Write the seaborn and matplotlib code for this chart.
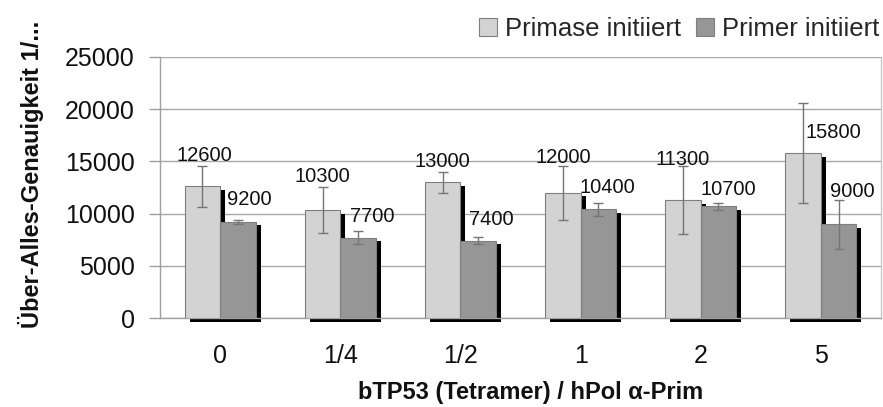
import matplotlib
matplotlib.use("Agg")
import matplotlib.pyplot as plt
import matplotlib.transforms as mtransforms
from matplotlib.patches import Rectangle, Patch
import seaborn as sns
import pandas as pd
import numpy as np

# ---- data ----
categories = ["0", "1/4", "1/2", "1", "2", "5"]
series_names = ["Primase initiiert", "Primer initiiert"]
primase_values = [12600, 10300, 13000, 12000, 11300, 15800]
primer_values = [9200, 7700, 7400, 10400, 10700, 9000]
primase_err = [2000, 2200, 1000, 2600, 3250, 4800]
primer_err = [150, 600, 350, 600, 350, 2350]
y_ticks = [0, 5000, 10000, 15000, 20000, 25000]
x_label = "bTP53 (Tetramer) / hPol α-Prim"
y_label = "Über-Alles-Genauigkeit 1/..."

# ---- layout (label offsets in pixels) ----
primase_lbl_dx = [2, 0, 0, 0, 0, 30]
primase_lbl_dy = [31, 34, 21, 35, 41, 21]
primer_lbl_dx = [12, 14, 13, 9, 10, 14]
primer_lbl_dy = [22, 21, 21, 22, 17, 33]

df = pd.DataFrame({
    "cat": categories * 2,
    "serie": [series_names[0]] * len(categories) + [series_names[1]] * len(categories),
    "value": primase_values + primer_values,
})

sns.set_theme(style="white")
plt.rcParams["font.family"] = ["Liberation Sans", "DejaVu Sans"]

W, H = 883, 407
fig = plt.figure(figsize=(W / 100, H / 100), dpi=100)
ax = fig.add_axes([160 / W, 1 - 318 / H, (881 - 160) / W, (318 - 57) / H])

colors = ["#d3d3d3", "#969696"]
sns.barplot(data=df, x="cat", y="value", hue="serie", order=categories,
            hue_order=series_names, palette=colors, width=0.59,
            errorbar=None, edgecolor="#7f7f7f", linewidth=0.8,
            saturation=1, legend=False, ax=ax, zorder=3)

bar_conts = list(ax.containers)

# shadows
off = mtransforms.ScaledTranslation(5 / 100, -3.5 / 100, fig.dpi_scale_trans)
for cont in bar_conts:
    for p in cont.patches:
        sh = Rectangle((p.get_x(), p.get_y()), p.get_width(), p.get_height(),
                       facecolor="black", edgecolor="none",
                       transform=ax.transData + off, zorder=2, clip_on=False)
        ax.add_patch(sh)

# error bars & labels
errs = [primase_err, primer_err]
vals = [primase_values, primer_values]
dxs = [primase_lbl_dx, primer_lbl_dx]
dys = [primase_lbl_dy, primer_lbl_dy]
for k, cont in enumerate(bar_conts):
    xs = [p.get_x() + p.get_width() / 2 for p in cont.patches]
    ax.errorbar(xs, vals[k], yerr=errs[k], fmt="none", ecolor="#757575",
                elinewidth=1.0, capsize=3.3, capthick=1.0, zorder=4)
    for i, x in enumerate(xs):
        ax.annotate(str(vals[k][i]), xy=(x, vals[k][i]),
                    xytext=(dxs[k][i] * 0.72, dys[k][i] * 0.72),
                    textcoords="offset points", ha="center", va="center",
                    fontsize=14.5, color="#111111", zorder=5)

ax.set_ylim(0, 25000)
ax.set_xlim(-0.5, len(categories) - 0.5)
ax.set_yticks(y_ticks)
ax.set_yticklabels([str(t) for t in y_ticks], fontsize=18, color="#111111")
ax.set_xticks(range(len(categories)))
ax.set_xticklabels(categories, fontsize=18, color="#111111")
ax.set_xticks(np.arange(-0.5, len(categories)), minor=True)
ax.tick_params(axis="x", which="major", length=0, pad=19)
ax.tick_params(axis="x", which="minor", length=8, width=1, color="#a0a0a0", direction="out")
ax.tick_params(axis="y", length=8, width=1, color="#a0a0a0", direction="out", pad=10, left=True)
ax.set_xlabel("")
ax.set_ylabel("")

ax.set_axisbelow(True)
ax.yaxis.grid(True, color="#a8a8a8", linewidth=1.0, zorder=0)
ax.xaxis.grid(False)
for s in ["left", "bottom"]:
    ax.spines[s].set_color("#a0a0a0")
    ax.spines[s].set_linewidth(1.0)
ax.spines["top"].set_visible(False)
ax.spines["right"].set_color("#c8c8c8")
ax.spines["right"].set_linewidth(1.0)

fig.text(531 / W, 1 - 393 / H, x_label, ha="center", va="center",
         fontsize=17, fontweight="bold", color="#111111")
fig.text(31 / W, 1 - 174 / H, y_label, ha="center", va="center",
         rotation=90, fontsize=17, fontweight="bold", color="#111111")

handles = [Patch(facecolor=c, edgecolor="#7f7f7f", linewidth=0.8) for c in colors]
fig.legend(handles, series_names, loc="center right", bbox_to_anchor=(879 / W, 1 - 29 / H),
           ncol=2, frameon=False, fontsize=18.5, handlelength=0.7, handleheight=0.7,
           handletextpad=0.3, columnspacing=0.6, borderaxespad=0, borderpad=0)

fig.savefig("out.png", dpi=100)
